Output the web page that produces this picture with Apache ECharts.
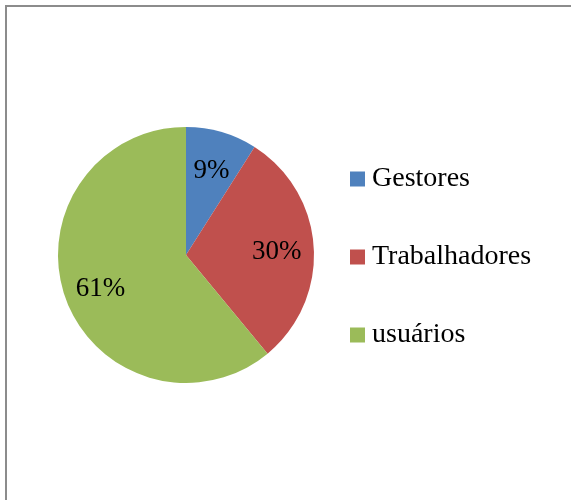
<!DOCTYPE html>
<html>
<head>
<meta charset="utf-8">
<script src="https://cdn.jsdelivr.net/npm/echarts@6/dist/echarts.min.js"></script>
<style>
html, body { margin: 0; padding: 0; background: #ffffff; }
#container { width: 571px; height: 500px; }
</style>
</head>
<body>
<div id="container"></div>
<script type="text/javascript">
    var categories = ['Gestores', 'Trabalhadores', 'usuários'];
    var values = [9, 30, 61];
    var colors = ['#4F81BD', '#C0504D', '#9BBB59'];

    var pieData = categories.map(function (name, i) {
        return { name: name, value: values[i], itemStyle: { color: colors[i] } };
    });

    var myChart = echarts.init(document.getElementById('container'));
    var option = {
        animation: false,
        backgroundColor: '#ffffff',
        graphic: [{
            type: 'rect',
            shape: { x: 6, y: 6, width: 700, height: 700 },
            style: { fill: 'none', stroke: '#8c8c8c', lineWidth: 2 },
            silent: true
        }],
        legend: {
            orient: 'vertical',
            left: 345,
            top: 160,
            icon: 'rect',
            itemWidth: 15,
            itemHeight: 15,
            itemGap: 50,
            data: categories,
            textStyle: { fontFamily: 'Liberation Serif', fontSize: 28, color: '#000000', padding: [0, 0, 0, 2] }
        },
        series: [
            {
                // filled pie
                type: 'pie',
                center: [186, 255],
                radius: [0, 128],
                startAngle: 90,
                clockwise: true,
                label: { show: false },
                labelLine: { show: false },
                emphasis: { disabled: true },
                data: pieData
            },
            {
                // transparent ring, only to place the percentage labels
                type: 'pie',
                center: [186, 255],
                radius: [48, 128],
                startAngle: 90,
                clockwise: true,
                silent: true,
                itemStyle: { color: 'transparent' },
                label: {
                    show: true,
                    position: 'inside',
                    formatter: '{d}%',
                    fontFamily: 'Liberation Serif',
                    fontSize: 27,
                    color: '#000000',
                    offset: [0, 3]
                },
                labelLine: { show: false },
                data: categories.map(function (name, i) {
                    return { name: name, value: values[i] };
                })
            }
        ]
    };
    myChart.setOption(option);
</script>
</body>
</html>
